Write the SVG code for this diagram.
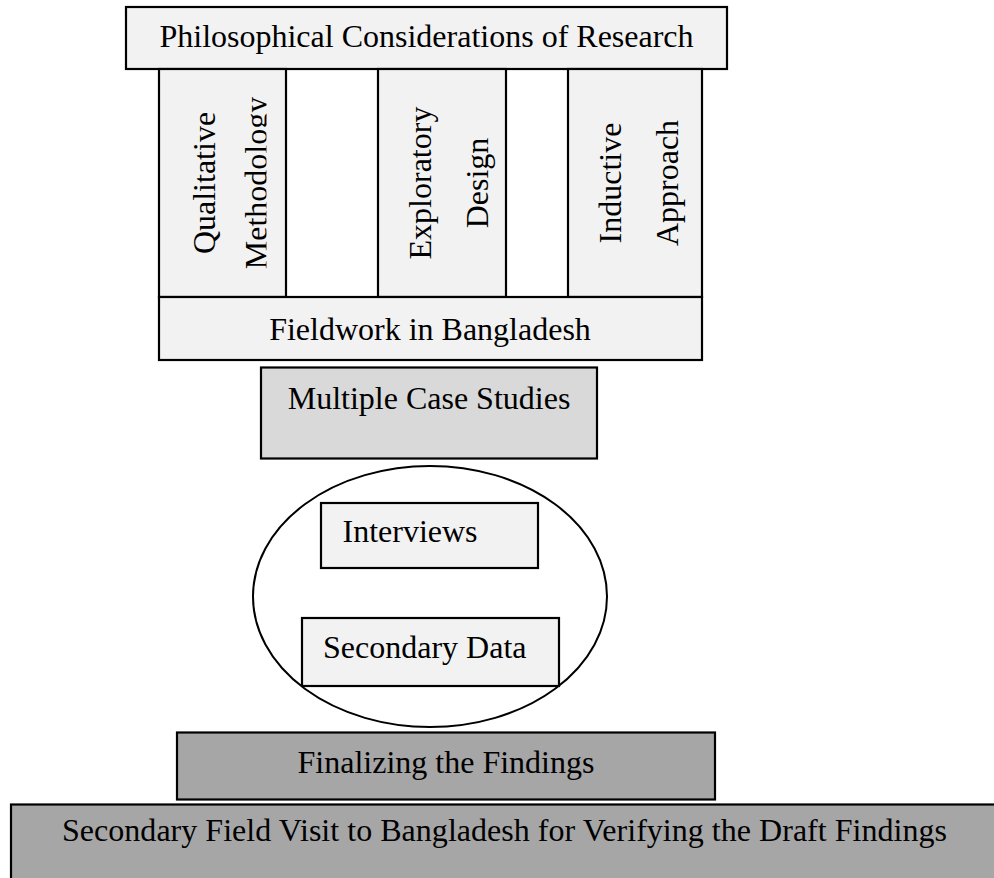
<svg xmlns="http://www.w3.org/2000/svg" width="994" height="878" viewBox="0 0 994 878">
<style>
.box{stroke:#000;stroke-width:2.2}
.light{fill:#f2f2f2}
.mid{fill:#d9d9d9}
.dark{fill:#a6a6a6}
text{font-family:"Liberation Serif","Times New Roman",serif;font-size:32px;fill:#000}
.c{text-anchor:middle}
</style>
<defs>
<clipPath id="clipMeth"><rect x="159" y="69" width="107.5" height="228"/></clipPath>
</defs>
<rect width="994" height="878" fill="#fff"/>
<g id="philosophical">
<rect class="box light" x="126" y="7" width="601" height="62"/>
<text class="c" x="426.5" y="47">Philosophical Considerations of Research</text>
</g>
<g id="qualitative-methodology">
<rect class="box light" x="159" y="69" width="127" height="228"/>
<text class="c" transform="translate(215,183) rotate(-90)">Qualitative</text>
<g clip-path="url(#clipMeth)"><text class="c" transform="translate(266.5,183) rotate(-90)">Methodology</text></g>
</g>
<g id="exploratory-design">
<rect class="box light" x="378" y="69" width="128" height="228"/>
<text class="c" transform="translate(431,183) rotate(-90)">Exploratory</text>
<text class="c" transform="translate(488,183) rotate(-90)">Design</text>
</g>
<g id="inductive-approach">
<rect class="box light" x="568" y="69" width="134" height="228"/>
<text class="c" transform="translate(621,183) rotate(-90)">Inductive</text>
<text class="c" transform="translate(678,183) rotate(-90)">Approach</text>
</g>
<g id="fieldwork">
<rect class="box light" x="159" y="297" width="543" height="63"/>
<text class="c" x="430" y="339.5">Fieldwork in Bangladesh</text>
</g>
<g id="multiple-case-studies">
<rect class="box mid" x="261" y="367.5" width="336" height="91"/>
<text class="c" x="429" y="408.5">Multiple Case Studies</text>
</g>
<g id="data-collection">
<ellipse cx="430" cy="596.5" rx="177" ry="130.5" fill="#fff" stroke="#000" stroke-width="2"/>
</g>
<g id="interviews">
<rect class="box light" x="321" y="503" width="217" height="65"/>
<text x="342.5" y="541.5">Interviews</text>
</g>
<g id="secondary-data">
<rect class="box light" x="302" y="618" width="257" height="68"/>
<text x="323" y="657.5">Secondary Data</text>
</g>
<g id="finalizing">
<rect class="box dark" x="177" y="732.5" width="538" height="67"/>
<text class="c" x="446" y="772.5">Finalizing the Findings</text>
</g>
<g id="secondary-field-visit">
<rect class="box dark" x="11" y="804.5" width="1000" height="100"/>
<text x="62" y="841" textLength="885" lengthAdjust="spacing">Secondary Field Visit to Bangladesh for Verifying the Draft Findings</text>
</g>
<g id="connectors"></g>
</svg>
